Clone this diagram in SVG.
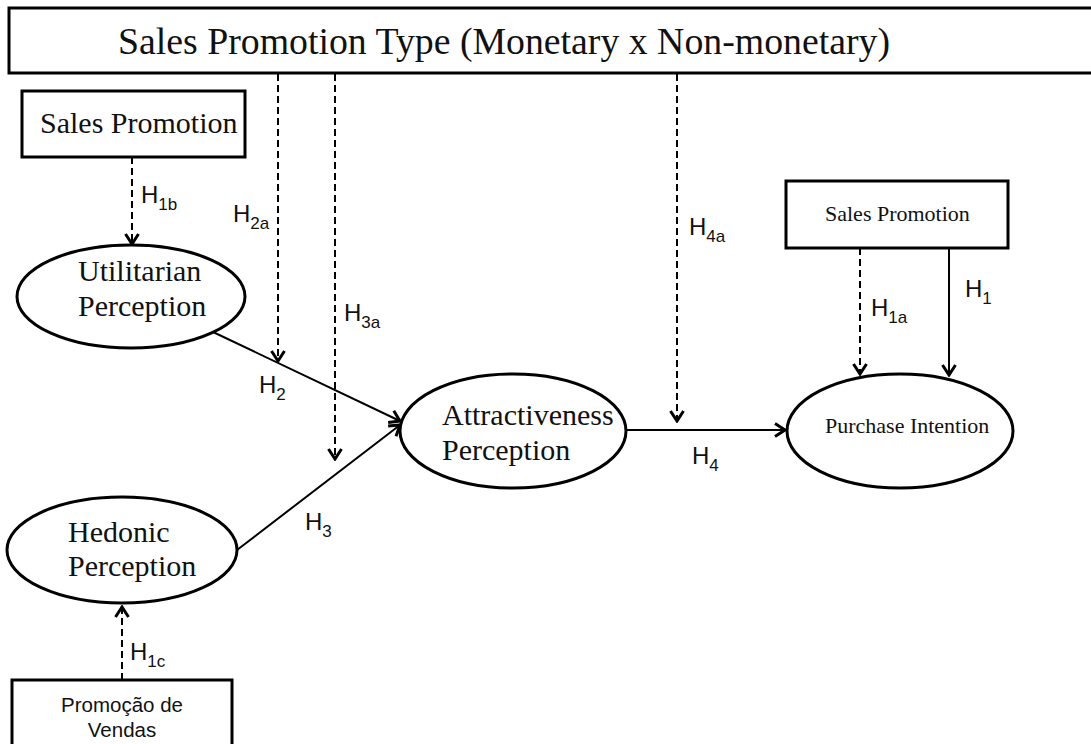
<svg xmlns="http://www.w3.org/2000/svg" width="1091" height="744" viewBox="0 0 1091 744">
<style>
.box{fill:#fff;stroke:#000;stroke-width:3}
.ell{fill:#fff;stroke:#000;stroke-width:3}
.serif{font-family:"Liberation Serif","Times New Roman",serif;fill:#111}
.sans{font-family:"Liberation Sans",Arial,sans-serif;fill:#111}
.h{font-family:"Liberation Sans",Arial,sans-serif;font-size:24px;fill:#111}
.sub{font-size:17px}
.solid{stroke:#000;stroke-width:2;fill:none}
.dash{stroke:#000;stroke-width:2;fill:none;stroke-dasharray:7 4}
</style>
<defs>
<marker id="arr" viewBox="0 0 14 16" refX="12" refY="8" markerWidth="14" markerHeight="16" markerUnits="userSpaceOnUse" orient="auto">
<path d="M2,1.5 L12,8 L2,14.5" fill="none" stroke="#000" stroke-width="3"/>
</marker>
</defs>
<rect width="1091" height="744" fill="#fff"/>

<g id="connectors">
<line class="dash" x1="132" y1="157" x2="132" y2="244" marker-end="url(#arr)"/>
<line class="dash" x1="278" y1="74" x2="278" y2="361" marker-end="url(#arr)"/>
<line class="dash" x1="335" y1="74" x2="335" y2="459" marker-end="url(#arr)"/>
<line class="dash" x1="677" y1="74" x2="677" y2="421" marker-end="url(#arr)"/>
<line class="dash" x1="860" y1="248" x2="860" y2="374" marker-end="url(#arr)"/>
<line class="solid" x1="949" y1="248" x2="949" y2="375" marker-end="url(#arr)"/>
<line class="solid" x1="213" y1="332" x2="400" y2="421" marker-end="url(#arr)"/>
<line class="solid" x1="237" y1="550" x2="400" y2="425" marker-end="url(#arr)"/>
<line class="solid" x1="626" y1="430" x2="785" y2="430" marker-end="url(#arr)"/>
<line class="dash" x1="122" y1="680" x2="122" y2="607" marker-end="url(#arr)"/>
<text class="h" x="141" y="203">H<tspan class="sub" dy="7">1b</tspan></text>
<text class="h" x="233" y="222">H<tspan class="sub" dy="7">2a</tspan></text>
<text class="h" x="344" y="321">H<tspan class="sub" dy="7">3a</tspan></text>
<text class="h" x="689" y="235">H<tspan class="sub" dy="7">4a</tspan></text>
<text class="h" x="871" y="316">H<tspan class="sub" dy="7">1a</tspan></text>
<text class="h" x="965" y="297">H<tspan class="sub" dy="7">1</tspan></text>
<text class="h" x="259" y="393">H<tspan class="sub" dy="7">2</tspan></text>
<text class="h" x="305" y="530">H<tspan class="sub" dy="7">3</tspan></text>
<text class="h" x="692" y="464">H<tspan class="sub" dy="7">4</tspan></text>
<text class="h" x="130" y="660">H<tspan class="sub" dy="7">1c</tspan></text>
</g>

<g id="type">
<rect class="box" x="9" y="8" width="1100" height="65"/>
<text class="serif" x="118" y="54" font-size="38.5" textLength="772" lengthAdjust="spacingAndGlyphs">Sales Promotion Type (Monetary x Non-monetary)</text>
</g>

<g id="sp-left">
<rect class="box" x="22" y="91" width="223" height="66"/>
<text class="serif" x="40" y="133" font-size="30">Sales Promotion</text>
</g>

<g id="utilitarian">
<ellipse class="ell" cx="131" cy="296.5" rx="114" ry="51.5"/>
<text class="serif" x="78" y="281" font-size="30">Utilitarian</text>
<text class="serif" x="78" y="316" font-size="30">Perception</text>
</g>

<g id="attractiveness">
<ellipse class="ell" cx="513" cy="431" rx="113" ry="57"/>
<text class="serif" x="442" y="425" font-size="30">Attractiveness</text>
<text class="serif" x="442" y="460" font-size="30">Perception</text>
</g>

<g id="hedonic">
<ellipse class="ell" cx="122" cy="550" rx="115" ry="53"/>
<text class="serif" x="68" y="542" font-size="30">Hedonic</text>
<text class="serif" x="68" y="576" font-size="30">Perception</text>
</g>

<g id="sp-right">
<rect class="box" x="786" y="181" width="222" height="67"/>
<text class="serif" x="825" y="221" font-size="22">Sales Promotion</text>
</g>

<g id="purchase">
<ellipse class="ell" cx="900" cy="431" rx="113" ry="57"/>
<text class="serif" x="825" y="433" font-size="22">Purchase Intention</text>
</g>

<g id="promocao">
<rect class="box" x="12" y="680" width="220" height="80"/>
<text class="sans" x="122" y="712" font-size="20.5" text-anchor="middle">Promoção de</text>
<text class="sans" x="122" y="737" font-size="20.5" text-anchor="middle">Vendas</text>
</g>
</svg>
